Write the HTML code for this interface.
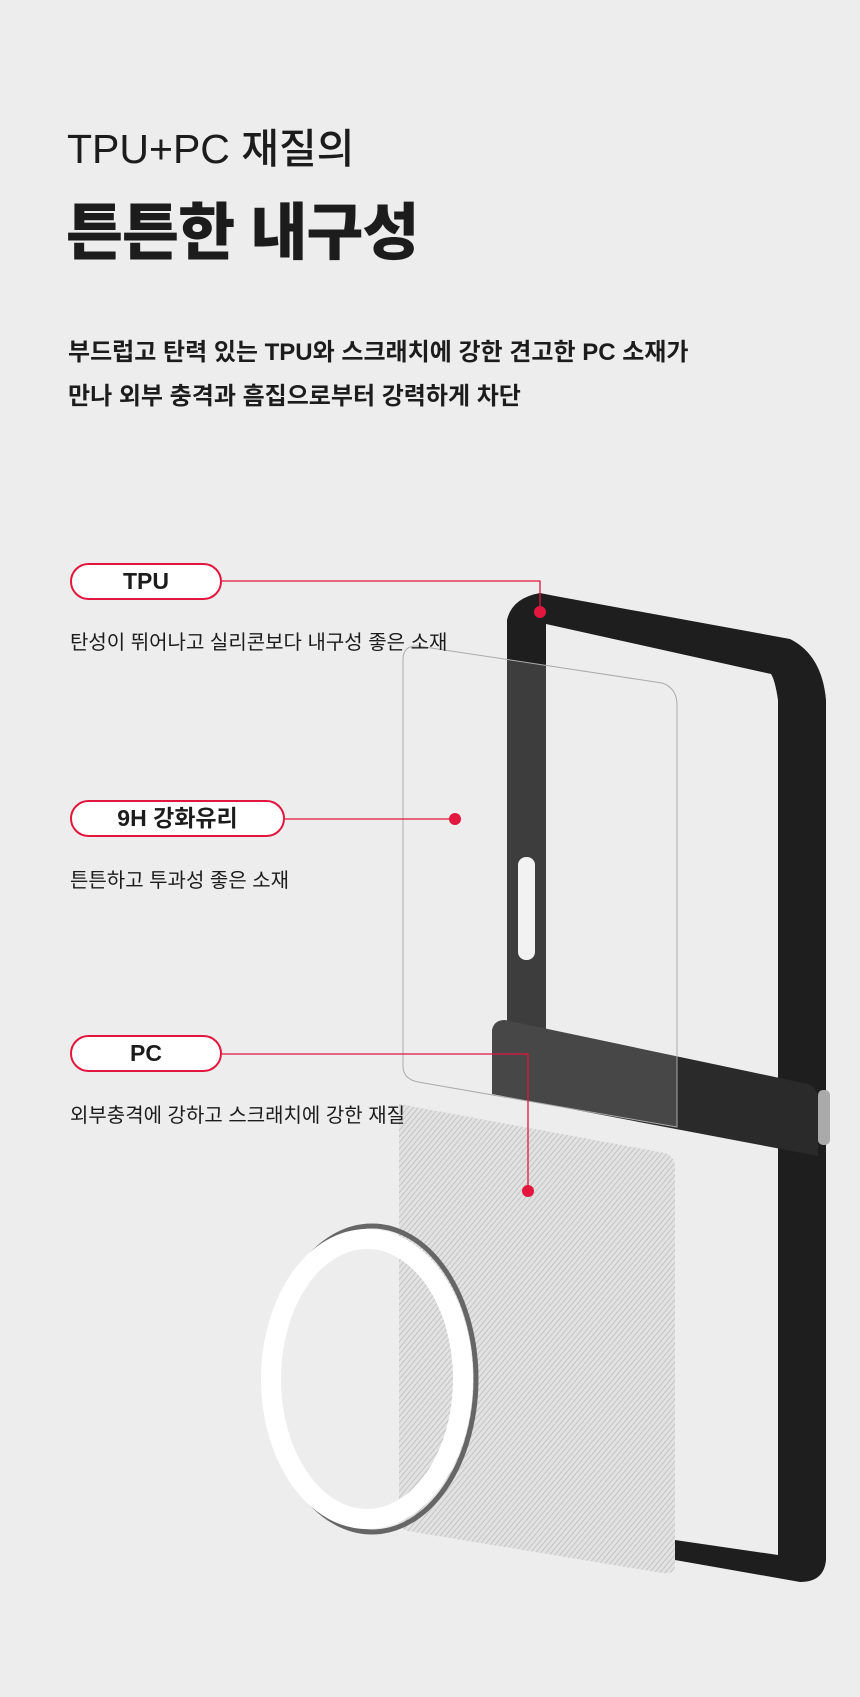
<!DOCTYPE html>
<html><head><meta charset="utf-8"><style>
body{margin:0;background:#ededed;}
#p{position:relative;width:860px;height:1697px;overflow:hidden;background:#ededed;font-family:"Liberation Sans","Noto Sans CJK KR",sans-serif;color:#1c1c1c;}
.t{position:absolute;white-space:nowrap;}
.pill{position:absolute;border:2px solid #e3163d;border-radius:20px;background:#fff;box-sizing:border-box;font-weight:700;font-size:23px;text-align:center;line-height:33px;color:#1c1c1c;}
</style></head><body><div id="p">
<div class="t" style="left:67px;top:115px;font-size:41px;font-weight:500;">TPU+PC 재질의</div>
<div class="t" style="left:66px;top:182px;font-size:62px;font-weight:900;letter-spacing:-1px;">튼튼한 내구성</div>
<div class="t" style="left:68px;top:332px;font-size:24px;font-weight:700;">부드럽고 탄력 있는 TPU와 스크래치에 강한 견고한 PC 소재가</div>
<div class="t" style="left:68px;top:376px;font-size:24px;font-weight:700;">만나 외부 충격과 흠집으로부터 강력하게 차단</div>

<svg width="860" height="1697" style="position:absolute;left:0;top:0">
<defs>
<pattern id="hatch" width="4" height="4" patternUnits="userSpaceOnUse" patternTransform="rotate(40)"><rect width="4" height="4" fill="#e2e2e2"/><line x1="0" y1="0" x2="0" y2="4" stroke="#b8b8b8" stroke-width="1.4"/></pattern>
</defs>
<path d="M507,620 Q512,598 540,593 L555,596 L790,639 Q822,655 826,700 L826,1560 Q824,1582 800,1582 L675,1560 L675,1540 L778,1555 L778,700 Q775,680 771,674 L546,624 L546,1030 L507,1030 Z" fill="#1e1e1e"/>
<rect x="518" y="857" width="17" height="103" rx="8" fill="#f3f3f3"/>
<path d="M492,1030 Q494,1020 505,1020 L808,1084 Q818,1088 818,1100 L818,1156 L492,1094 Z" fill="#2a2a2a"/>
<rect x="818" y="1090" width="12" height="55" rx="5" fill="#aaa"/>
<path d="M403,660 Q403,645 418,646 L662,683 Q677,688 677,705 L677,1127 L418,1082 Q403,1079 403,1066 Z" fill="#f4f4f4" fill-opacity="0.15" stroke="#aaa" stroke-width="1"/>
<path d="M399,1104 L665,1153 Q675,1157 675,1167 L675,1565 Q675,1575 662,1573 L408,1531 Q399,1529 399,1519 Z" fill="url(#hatch)"/>
<ellipse cx="372" cy="1379" rx="104" ry="153" fill="none" stroke="#666" stroke-width="5"/>
<ellipse cx="367" cy="1379" rx="96" ry="140" fill="none" stroke="#fff" stroke-width="20"/>
<g stroke="#e3163d" stroke-width="1.3" fill="none">
<polyline points="222,581 540,581 540,612"/>
<line x1="285" y1="819" x2="455" y2="819"/>
<polyline points="222,1054 528,1054 528,1191"/>
</g>
<g fill="#e3163d"><circle cx="540" cy="612" r="6"/><circle cx="455" cy="819" r="6"/><circle cx="528" cy="1191" r="6"/></g>
</svg>

<div class="pill" style="left:70px;top:563px;width:152px;height:37px;">TPU</div>
<div class="t" style="left:70px;top:626px;font-size:20px;">탄성이 뛰어나고 실리콘보다 내구성 좋은 소재</div>
<div class="pill" style="left:70px;top:800px;width:215px;height:37px;">9H 강화유리</div>
<div class="t" style="left:70px;top:864px;font-size:20px;">튼튼하고 투과성 좋은 소재</div>
<div class="pill" style="left:70px;top:1035px;width:152px;height:37px;">PC</div>
<div class="t" style="left:70px;top:1099px;font-size:20px;">외부충격에 강하고 스크래치에 강한 재질</div>
</div></body></html>
